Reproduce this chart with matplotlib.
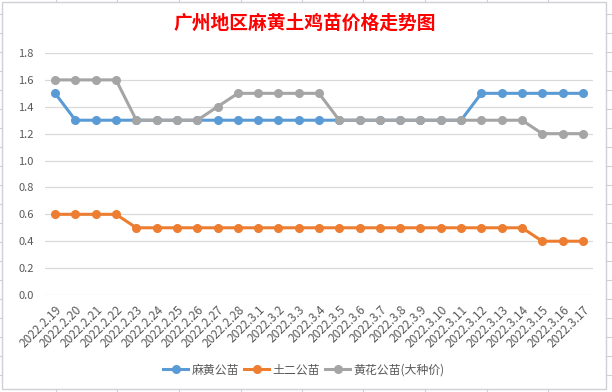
import matplotlib
matplotlib.use('Agg')
import matplotlib.pyplot as plt
import matplotlib.transforms as mtransforms
from matplotlib.lines import Line2D
from matplotlib.patches import Rectangle

plt.rcParams['font.family'] = ['Noto Sans CJK SC', 'DejaVu Sans']

dates = ['2022.2.19', '2022.2.20', '2022.2.21', '2022.2.22', '2022.2.23', '2022.2.24',
         '2022.2.25', '2022.2.26', '2022.2.27', '2022.2.28', '2022.3.1', '2022.3.2',
         '2022.3.3', '2022.3.4', '2022.3.5', '2022.3.6', '2022.3.7', '2022.3.8',
         '2022.3.9', '2022.3.10', '2022.3.11', '2022.3.12', '2022.3.13', '2022.3.14',
         '2022.3.15', '2022.3.16', '2022.3.17']
mahuang = [1.5, 1.3, 1.3, 1.3, 1.3, 1.3, 1.3, 1.3, 1.3, 1.3, 1.3, 1.3, 1.3, 1.3,
           1.3, 1.3, 1.3, 1.3, 1.3, 1.3, 1.3, 1.5, 1.5, 1.5, 1.5, 1.5, 1.5]
tuer = [0.6, 0.6, 0.6, 0.6, 0.5, 0.5, 0.5, 0.5, 0.5, 0.5, 0.5, 0.5, 0.5, 0.5,
        0.5, 0.5, 0.5, 0.5, 0.5, 0.5, 0.5, 0.5, 0.5, 0.5, 0.4, 0.4, 0.4]
huanghua = [1.6, 1.6, 1.6, 1.6, 1.3, 1.3, 1.3, 1.3, 1.4, 1.5, 1.5, 1.5, 1.5, 1.5,
            1.3, 1.3, 1.3, 1.3, 1.3, 1.3, 1.3, 1.3, 1.3, 1.3, 1.2, 1.2, 1.2]
series_names = ['麻黄公苗', '土二公苗', '黄花公苗(大种价)']
colors = ['#5B9BD5', '#ED7D31', '#A5A5A5']
yticks = [0.0, 0.2, 0.4, 0.6, 0.8, 1.0, 1.2, 1.4, 1.6, 1.8]

W, H = 612, 392
fig = plt.figure(figsize=(W / 100, H / 100), dpi=100)
fig.patch.set_facecolor('white')

# chart border like the excel chart object
fig.add_artist(Rectangle((2 / W, 1 - 389 / H), 604 / W, 387 / H, transform=fig.transFigure,
                         fill=False, edgecolor='#D0D0D8', linewidth=1.0))
# bits of the sheet's cell grid peeking out around it
for gx in [56, 117, 179, 241, 302, 363, 425, 487, 548]:
    fig.add_artist(Line2D([gx / W, gx / W], [1 - 2 / H, 1.0], transform=fig.transFigure,
                          color='#D0D0D8', lw=0.8))
    fig.add_artist(Line2D([gx / W, gx / W], [0, 1 - 389 / H], transform=fig.transFigure,
                          color='#D0D0D8', lw=0.8))
for gy in range(14, 389, 19):
    fig.add_artist(Line2D([0, 2 / W], [1 - gy / H, 1 - gy / H], transform=fig.transFigure,
                          color='#D0D0D8', lw=0.8))
    fig.add_artist(Line2D([606 / W, 1.0], [1 - gy / H, 1 - gy / H], transform=fig.transFigure,
                          color='#D0D0D8', lw=0.8))

ax = fig.add_axes([45 / W, 1 - 295 / H, 548 / W, 242 / H])
x = list(range(len(dates)))
for vals, name, c in zip([mahuang, tuer, huanghua], series_names, colors):
    ax.plot(x, vals, color=c, lw=2.2, marker='o', markersize=5.5, label=name,
            solid_joinstyle='round', zorder=3)

ax.set_xlim(-0.5, len(dates) - 0.5)
ax.set_ylim(0, 1.8)
ax.set_yticks(yticks)
ax.set_yticklabels(['%.1f' % v for v in yticks])
ax.set_xticks(x)
ax.set_xticklabels(dates, rotation=45, ha='right', va='top', rotation_mode='anchor')
# nudge date labels a little right, like excel does
offset = mtransforms.ScaledTranslation(4 / 100, 0, fig.dpi_scale_trans)
for lbl in ax.get_xticklabels():
    lbl.set_transform(lbl.get_transform() + offset)
ax.grid(axis='y', color='#D9D9D9', lw=0.9)
ax.set_axisbelow(True)
for s in ax.spines.values():
    s.set_visible(False)
ax.tick_params(axis='both', length=0, colors='#595959')
ax.tick_params(axis='x', pad=6, labelsize=8.6)
ax.tick_params(axis='y', pad=8, labelsize=8)

fig.text(305 / W, 1 - 23 / H, '广州地区麻黄土鸡苗价格走势图', color='red', fontsize=13.5,
         fontweight='bold', ha='center', va='center')

fig.legend(loc='center', bbox_to_anchor=(304 / W, 1 - 370 / H), ncol=3, frameon=False,
           fontsize=8.6, handlelength=2.1, handletextpad=0.3, columnspacing=0.4,
           labelcolor='#595959')

plt.savefig('out.png', dpi=100, facecolor='white')
plt.close()
